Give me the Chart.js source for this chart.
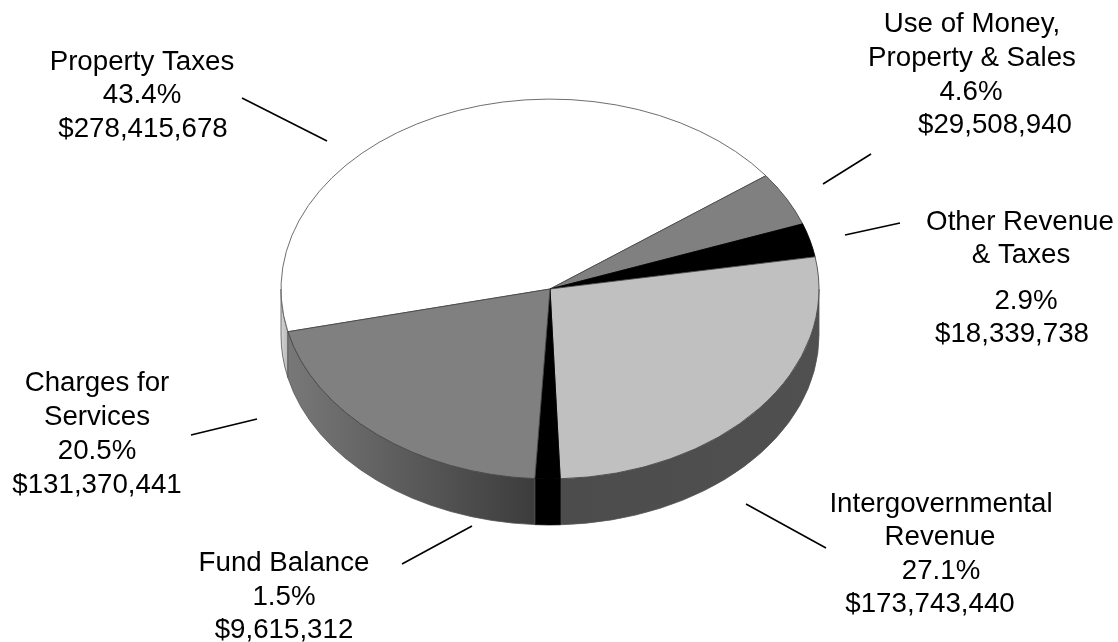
<!DOCTYPE html>
<html>
<head>
<meta charset="utf-8">
<style>html,body{margin:0;padding:0;background:#fff}canvas{display:block}</style>
<script src="https://cdn.jsdelivr.net/npm/chart.js@4"></script>
</head>
<body>
<canvas id="c" width="1118" height="642"></canvas>
<script>
const categories = ["Property Taxes","Use of Money, Property & Sales","Other Revenue & Taxes","Intergovernmental Revenue","Fund Balance","Charges for Services"];
const amounts = [278415678,29508940,18339738,173743440,9615312,131370441];
const topColors = ["#ffffff","#808080","#000000","#c0c0c0","#000000","#808080"];
const edgeColors = ["#555555","#444444","#000000","#444444","#000000","#444444"];
const sideColors = [["#d4d4d4","#b8b8b8"],["#808080","#808080"],["#000000","#000000"],["#4c4c4c","#505050"],["#000000","#000000"],["#787878","#3c3c3c"]];
const labelLines = [
  ["Property Taxes","43.4%","$278,415,678"],
  ["Use of Money,","Property & Sales","4.6%","$29,508,940"],
  ["Other Revenue","& Taxes","2.9%","$18,339,738"],
  ["Intergovernmental","Revenue","27.1%","$173,743,440"],
  ["Fund Balance","1.5%","$9,615,312"],
  ["Charges for","Services","20.5%","$131,370,441"]
];
const labelPlace = [
  [[142,62],[142,95],[143,129]],
  [[972,24],[972,58],[971,92],[995,125]],
  [[1020,222],[1021,255],[1026,301],[1012,334]],
  [[941,504],[940,537],[941,571],[930,604]],
  [[284,563],[284,597],[284,630]],
  [[97,383],[97,417],[97,451],[97,485]]
];
const leaders = [[242,98,327,141],[823,184,871,154],[845,235,900,223],[746,504,826,548],[402,564,472,526],[191,435,257,419]];
const squash = 0.706, depth = 46;

const tilt = {
  id:'tilt',
  beforeDatasetsDraw(chart){
    const ctx = chart.ctx, arcs = chart.getDatasetMeta(0).data;
    const TAU = Math.PI*2;
    arcs.forEach((a,i)=>{
      const cx=a.x, cy=a.y, r=a.outerRadius;
      let s=((a.startAngle%TAU)+TAU)%TAU, e=s+(a.endAngle-a.startAngle);
      [[0,Math.PI],[TAU,TAU+Math.PI]].forEach(([lo,hi])=>{
        const a0=Math.max(s,lo), a1=Math.min(e,hi);
        if(a1<=a0) return;
        const x0=cx+r*Math.cos(a0), x1=cx+r*Math.cos(a1);
        const g=ctx.createLinearGradient(Math.min(x0,x1),0,Math.max(x0,x1)+0.01,0);
        g.addColorStop(0,sideColors[i][0]); g.addColorStop(1,sideColors[i][1]);
        ctx.save();
        ctx.beginPath();
        ctx.ellipse(cx,cy,r,r*squash,0,a0,a1);
        ctx.ellipse(cx,cy+depth,r,r*squash,0,a1,a0,true);
        ctx.closePath();
        ctx.fillStyle=g; ctx.fill();
        ctx.strokeStyle=sideColors[i][0]==='#000000'?'#000':'#555'; ctx.lineWidth=0.8; ctx.stroke();
        ctx.restore();
      });
    });
    const m=arcs[0];
    ctx.save();
    ctx.translate(m.x,m.y); ctx.scale(1,squash); ctx.translate(-m.x,-m.y);
  },
  afterDatasetsDraw(chart){
    const ctx=chart.ctx;
    ctx.restore();
    ctx.save();
    ctx.strokeStyle='#000'; ctx.lineWidth=1.6;
    leaders.forEach(l=>{ctx.beginPath();ctx.moveTo(l[0],l[1]);ctx.lineTo(l[2],l[3]);ctx.stroke();});
    ctx.fillStyle='#000'; ctx.font='27.7px "Liberation Sans", Arial, sans-serif';
    ctx.textAlign='center'; ctx.textBaseline='middle';
    labelLines.forEach((ls,i)=>ls.forEach((t,j)=>ctx.fillText(t,labelPlace[i][j][0],labelPlace[i][j][1])));
    ctx.restore();
  }
};

new Chart(document.getElementById('c'),{
  type:'pie',
  data:{labels:categories,datasets:[{data:amounts,backgroundColor:topColors,borderColor:edgeColors,borderWidth:1}]},
  options:{
    responsive:false,animation:false,devicePixelRatio:1,
    rotation:257,radius:269,
    layout:{padding:{right:18,bottom:64}},
    events:[],
    plugins:{legend:{display:false},tooltip:{enabled:false}}
  },
  plugins:[tilt]
});
</script>
</body>
</html>
